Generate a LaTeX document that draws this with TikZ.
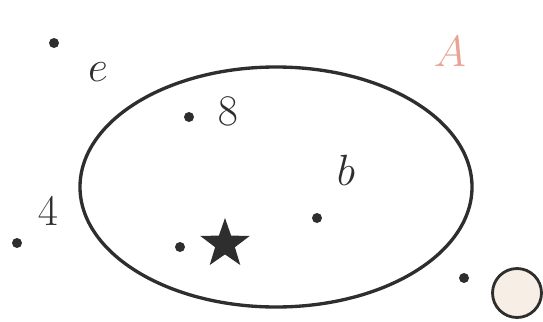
\documentclass[tikz,border=0pt]{standalone}
\usetikzlibrary{shapes.geometric}
\definecolor{ink}{HTML}{2E2E2E}
\definecolor{setred}{HTML}{E9A393}
\definecolor{beige}{HTML}{F7EEE6}
\begin{document}
\begin{tikzpicture}[x=0.02cm, y=-0.02cm, font=\fontsize{29}{32}\selectfont, line join=round, line cap=round]
			\useasboundingbox (0,0) rectangle (543,321);
			\path
			(54,43) coordinate (E)
			(17,243) coordinate (F)
			(189,117) coordinate (G)
			(180,247) coordinate (S)
			(317,218) coordinate (B)
			(464,278) coordinate (O)
			;
			\draw[ink, line width=1.9pt] (276,187) ellipse [x radius=196, y radius=120];
			\foreach \x in {E,F,G,S,B,O}
			\fill[ink] (\x) circle (5);
			\node[text=ink] (le) at (98,72) {$e$};
			\node[text=ink] (l8) at (228,111) {$8$};
			\node[text=ink] (l4) at (48,211) {$4$};
			\node[text=ink] (lb) at (346,170) {$b$};
			\node[star, star points=5, star point ratio=2.5, fill=ink, inner sep=0pt, minimum size=1.04cm] (st) at (225,244) {};
			\node[text=setred] (lA) at (450,52) {$A$};
			\node[circle, draw=ink, fill=beige, line width=1.6pt, minimum size=0.98cm, inner sep=0pt] (ci) at (517,293) {};
		\end{tikzpicture}
\end{document}
